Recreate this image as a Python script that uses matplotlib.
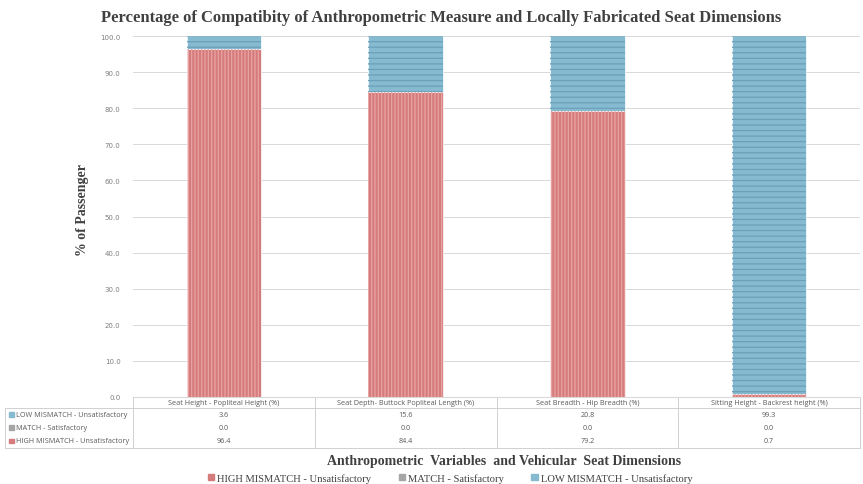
import matplotlib.pyplot as plt
import matplotlib.transforms as mtransforms
from matplotlib.lines import Line2D
from matplotlib.patches import Patch

categories = ["Seat Height - Popliteal Height (%)", "Seat Depth- Buttock Popliteal Length (%)",
              "Seat Breadth - Hip Breadth (%)", "Sitting Height - Backrest height (%)"]
high = [96.4, 84.4, 79.2, 0.7]
match = [0.0, 0.0, 0.0, 0.0]
low = [3.6, 15.6, 20.8, 99.3]
series_names = ["HIGH MISMATCH - Unsatisfactory", "MATCH - Satisfactory", "LOW MISMATCH - Unsatisfactory"]

W, H = 863, 485
fig = plt.figure(figsize=(W / 100, H / 100), dpi=100)

def fy(py):
    return 1 - py / H

def fx(px):
    return px / W

x0, x1, ytop, ybot = 133, 860, 37, 398
ax = fig.add_axes([fx(x0), fy(ybot), (x1 - x0) / W, (ybot - ytop) / H])

red, red_h = "#d57b7b", "#e9a3a3"
grey = "#a5a5a5"
blue, blue_h = "#85bad0", "#6aa0b9"
plt.rcParams["hatch.linewidth"] = 0.9

pos = list(range(len(categories)))
bw = 0.41
ax.bar(pos, high, bw, color=red, edgecolor="white", linewidth=0.5, zorder=2)
ax.bar(pos, high, bw, fill=False, hatch="|||||", edgecolor=red_h, linewidth=0, zorder=3)
ax.bar(pos, match, bw, bottom=high, color=grey, linewidth=0, zorder=2)
bot = [h + m for h, m in zip(high, match)]
ax.bar(pos, low, bw, bottom=bot, color=blue, edgecolor="white", linewidth=0.5, zorder=2)
ax.bar(pos, low, bw, bottom=bot, fill=False, hatch="---", edgecolor=blue_h, linewidth=0, zorder=3)

ax.set_xlim(-0.5, len(categories) - 0.5)
ax.set_ylim(0, 100)
ax.set_yticks(range(0, 101, 10))
ax.set_yticklabels([f"{v:.1f}" for v in range(0, 101, 10)])
ax.tick_params(axis="y", length=0, labelsize=5, labelcolor="#7f7f7f", pad=9)
ax.set_xticks([])
ax.grid(axis="y", color="#d9d9d9", linewidth=0.7, zorder=0)
for s in ["top", "right", "left"]:
    ax.spines[s].set_visible(False)
ax.spines["bottom"].set_color("#d9d9d9")

# data table below the plot
tr = mtransforms.blended_transform_factory(ax.transData, fig.transFigure)
lc = "#d0d0d0"
y_head, y_r0, y_end = 398, 409, 449
for b in [-0.5, 0.5, 1.5, 2.5, 3.5]:
    ax.add_line(Line2D([b, b], [fy(y_head), fy(y_end)], transform=tr, color=lc, lw=0.7, clip_on=False))
fig.add_artist(Line2D([fx(x0), fx(x1)], [fy(y_r0)] * 2, color=lc, lw=0.7))
fig.add_artist(Line2D([fx(5), fx(x1)], [fy(y_end)] * 2, color=lc, lw=0.7))
fig.add_artist(Line2D([fx(5), fx(x0)], [fy(y_r0)] * 2, color=lc, lw=0.7))
fig.add_artist(Line2D([fx(5), fx(5)], [fy(y_r0), fy(y_end)], color=lc, lw=0.7))

tfont = dict(fontsize=5.2, color="#595959", family="Open Sans")
for i, c in enumerate(categories):
    ax.text(i, fy(403.5), c, transform=tr, ha="center", va="center", **tfont)
    ax.text(i, fy(415.5), f"{low[i]:.1f}", transform=tr, ha="center", va="center", **tfont)
    ax.text(i, fy(428.5), f"{match[i]:.1f}", transform=tr, ha="center", va="center", **tfont)
    ax.text(i, fy(442), f"{high[i]:.1f}", transform=tr, ha="center", va="center", **tfont)
rows = [(series_names[2], blue, 415.5), (series_names[1], grey, 428.5), (series_names[0], red, 442)]
for name, col, yy in rows:
    fig.patches.append(plt.Rectangle((fx(9), fy(yy) - 2.2 / H), 4.5 / W, 4.5 / H, color=col,
                                     transform=fig.transFigure))
    fig.text(fx(16), fy(yy), name, ha="left", va="center", **tfont)

serif = "Liberation Serif"
fig.text(fx(441), fy(18), "Percentage of Compatibity of Anthropometric Measure and Locally Fabricated Seat Dimensions",
         ha="center", va="center", fontsize=12, fontweight="bold", family=serif, color="#404040")
fig.text(fx(82), fy(210), "% of Passenger", rotation=90, ha="center", va="center",
         fontsize=10, fontweight="bold", family=serif, color="#404040")
fig.text(fx(504), fy(462), "Anthropometric  Variables  and Vehicular  Seat Dimensions",
         ha="center", va="center", fontsize=10, fontweight="bold", family=serif, color="#404040")

handles = [Patch(color=red), Patch(color=grey), Patch(color=blue)]
fig.legend(handles, series_names, loc="center", bbox_to_anchor=(fx(450), fy(479)), ncol=3,
           frameon=False, prop=dict(family=serif, size=7.6), handlelength=0.6, handleheight=0.6,
           handletextpad=0.3, columnspacing=2.6, labelcolor="#404040")

fig.savefig("out.png", dpi=100)
